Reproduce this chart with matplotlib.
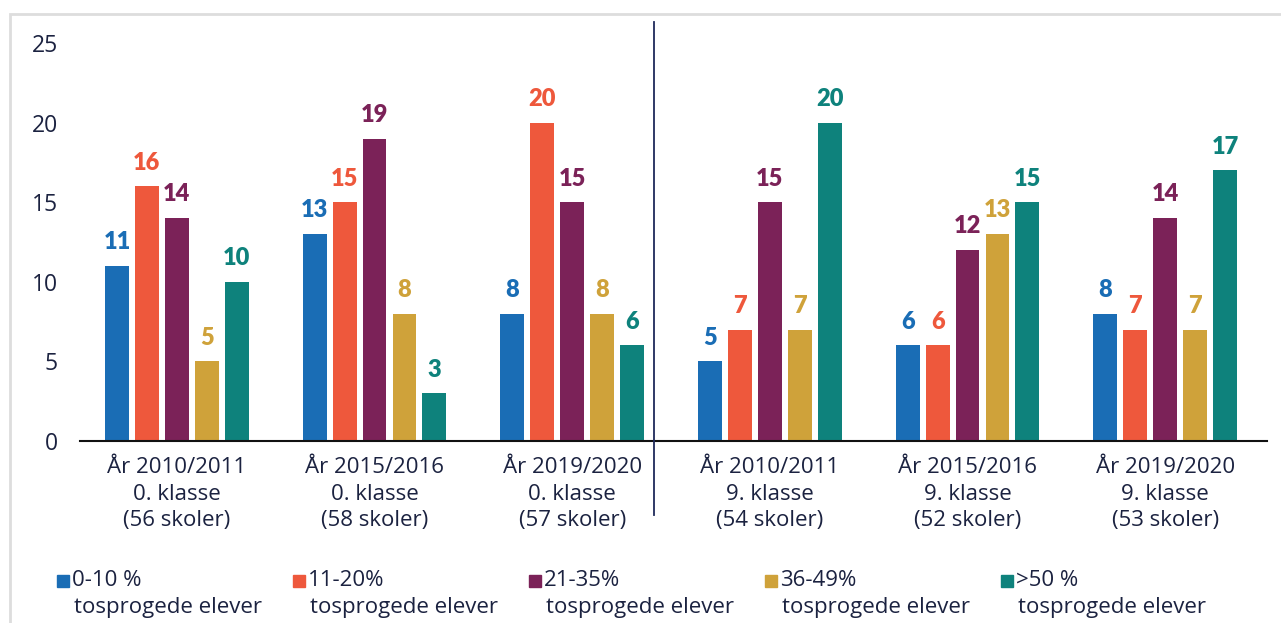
import numpy as np
import matplotlib
matplotlib.use('Agg')
import matplotlib.pyplot as plt
from matplotlib.patches import Rectangle

plt.rcParams['font.family'] = ['Open Sans', 'DejaVu Sans']

groups = ["År 2010/2011\n0. klasse\n(56 skoler)",
          "År 2015/2016\n0. klasse\n(58 skoler)",
          "År 2019/2020\n0. klasse\n(57 skoler)",
          "År 2010/2011\n9. klasse\n(54 skoler)",
          "År 2015/2016\n9. klasse\n(52 skoler)",
          "År 2019/2020\n9. klasse\n(53 skoler)"]
series_names = ["0-10 %", "11-20%", "21-35%", "36-49%", ">50 %"]
s_0_10 = [11, 13, 8, 5, 6, 8]
s_11_20 = [16, 15, 20, 7, 6, 7]
s_21_35 = [14, 19, 15, 15, 12, 14]
s_36_49 = [5, 8, 8, 7, 13, 7]
s_50 = [10, 3, 6, 20, 15, 17]
series = [s_0_10, s_11_20, s_21_35, s_36_49, s_50]
colors = ['#1a6db5', '#ee583c', '#7b2258', '#cfa23a', '#0e827c']
navy = '#1b2240'

fig = plt.figure(figsize=(12.81, 6.23), dpi=100)
ax = fig.add_axes([80/1281, 1 - 441/623, (1267 - 80)/1281, (441 - 43)/623])

x = np.arange(len(groups))
step = 0.1515
width = 0.121
for i, (vals, c) in enumerate(zip(series, colors)):
    pos = x + (i - 2) * step
    ax.bar(pos, vals, width=width, color=c, zorder=2)
    for px, v in zip(pos, vals):
        ax.annotate(str(v), (px, v), xytext=(0, 12), textcoords='offset points',
                    ha='center', va='baseline', fontsize=17, fontweight='heavy',
                    color=c, family=['Lato', 'DejaVu Sans'])

ax.set_xlim(-0.49, 5.515)
ax.set_ylim(0, 25)
ax.set_yticks(range(0, 26, 5))
ax.set_xticks(x)
ax.set_xticklabels(groups, fontsize=16, color=navy, linespacing=1.36)
ax.tick_params(axis='y', length=0, pad=16, labelsize=16.5, labelcolor=navy)
ax.tick_params(axis='x', length=0, pad=11.5)
for s in ['top', 'right', 'left']:
    ax.spines[s].set_visible(False)
ax.spines['bottom'].set_color('#111111')
ax.spines['bottom'].set_linewidth(1.5)

# divider between 0. klasse and 9. klasse
ax.plot([2.414, 2.414], [-4.65, 26.3], color='#1f2a5a', lw=1.3, clip_on=False, zorder=3)

# outer light frame
fig.patches.append(Rectangle((10/1281, -0.1), 1.2, 1 - 14/623 + 0.1, transform=fig.transFigure,
                             fill=False, edgecolor='#dddddd', lw=2))

# legend
for i, (name, c) in enumerate(zip(series_names, colors)):
    lx = 57 + i * 236
    fig.patches.append(Rectangle((lx/1281, 1 - 587/623), 12/1281, 12/623,
                                 transform=fig.transFigure, color=c))
    fig.text((lx + 15)/1281, 1 - 580/623, name, fontsize=16, color=navy, va='center')
    fig.text((lx + 17)/1281, 1 - 607/623, "tosprogede elever", fontsize=16, color=navy, va='center')

fig.savefig('out.png', dpi=100)
